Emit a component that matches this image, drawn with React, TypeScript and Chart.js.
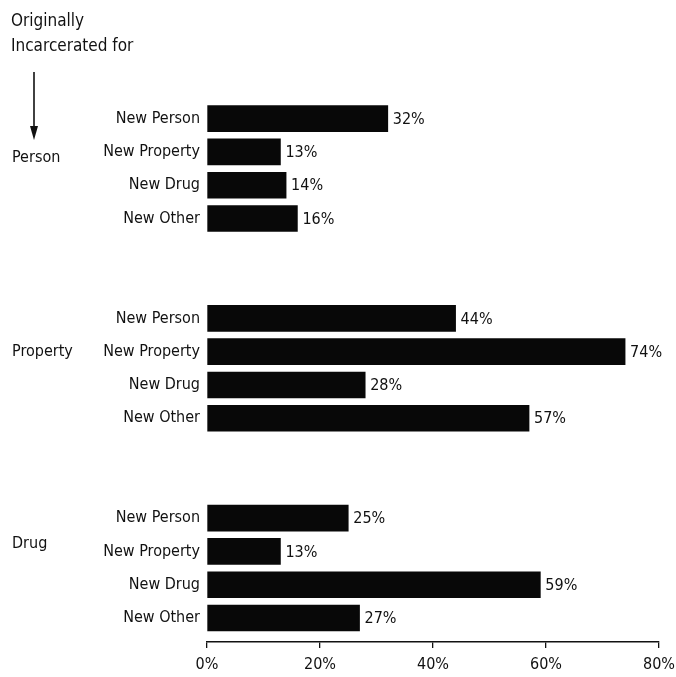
import React, { useEffect, useRef } from 'react';
import { Chart, registerables } from 'chart.js';

Chart.register(...registerables);

const titleLines = ['Originally', 'Incarcerated for'];
const groups = ['Person', 'Property', 'Drug'];
const categories = ['New Person', 'New Property', 'New Drug', 'New Other'];
const personValues = [32, 13, 14, 16];
const propertyValues = [44, 74, 28, 57];
const drugValues = [25, 13, 59, 27];
const xTicks = [0, 20, 40, 60, 80];

const groupValues = [personValues, propertyValues, drugValues];
const ROWS_PER_GROUP = 6;
// vertical nudge (px) of each group label relative to its group's second row
const GROUP_LABEL_NUDGE = [6, 0, -8];

const FONT = "'Liberation Sans Narrow', 'Arial Narrow', 'DejaVu Sans Condensed', 'Liberation Sans', sans-serif";
const INK = '#111111';

const rowLabel: Record<number, string> = {};
const points: { x: number; y: number }[] = [];
groupValues.forEach((vals, g) => {
  vals.forEach((v, i) => {
    const row = g * ROWS_PER_GROUP + i;
    rowLabel[row] = categories[i];
    points.push({ x: v, y: row });
  });
});

const overlayPlugin = {
  id: 'overlay',
  afterDraw(chart: any) {
    const ctx = chart.ctx;
    const yScale = chart.scales.y;
    ctx.save();
    ctx.fillStyle = INK;
    ctx.strokeStyle = INK;

    // title
    ctx.font = `17px ${FONT}`;
    ctx.textAlign = 'left';
    ctx.textBaseline = 'middle';
    titleLines.forEach((t, i) => ctx.fillText(t, 11, 22 + i * 25));

    // arrow
    ctx.lineWidth = 1.6;
    ctx.beginPath();
    ctx.moveTo(34, 72);
    ctx.lineTo(34, 130);
    ctx.stroke();
    ctx.beginPath();
    ctx.moveTo(30, 126);
    ctx.lineTo(38, 126);
    ctx.lineTo(34, 140);
    ctx.closePath();
    ctx.fill();

    // group labels
    ctx.font = `16px ${FONT}`;
    groups.forEach((g, gi) => {
      const y = yScale.getPixelForValue(gi * ROWS_PER_GROUP + 1);
      ctx.fillText(g, 12, y + GROUP_LABEL_NUDGE[gi]);
    });

    // value labels
    const meta = chart.getDatasetMeta(0);
    meta.data.forEach((el: any, i: number) => {
      ctx.fillText(points[i].x + '%', el.x + 5, el.y + 1);
    });
    ctx.restore();
  },
};

export default function App() {
  const ref = useRef<HTMLCanvasElement>(null);
  useEffect(() => {
    if (!ref.current) return;
    const chart = new Chart(ref.current, {
      type: 'bar',
      data: {
        datasets: [
          {
            data: points as any,
            backgroundColor: '#080808',
            borderWidth: 0,
            barThickness: 26,
          },
        ],
      },
      options: {
        indexAxis: 'y',
        animation: false,
        responsive: false,
        layout: { padding: { left: 0, right: 17, top: 102, bottom: 0 } },
        plugins: { legend: { display: false }, tooltip: { enabled: false } },
        scales: {
          x: {
            type: 'linear',
            min: 0,
            max: 80,
            afterFit: (s: any) => {
              s.height = 35;
              s.paddingLeft = 0;
              s.paddingRight = 0;
            },
            afterBuildTicks: (s: any) => {
              s.ticks = xTicks.map((v) => ({ value: v }));
            },
            grid: {
              display: true,
              drawOnChartArea: false,
              drawTicks: true,
              tickLength: 6,
              color: INK,
              lineWidth: 1.3,
            },
            border: { display: true, color: INK, width: 1.6 },
            ticks: {
              padding: 7,
              color: INK,
              font: { family: FONT, size: 16 },
              callback: (v: any) => v + '%',
            },
          },
          y: {
            type: 'linear',
            reverse: true,
            offset: false,
            bounds: 'data',
            min: -0.5,
            max: 15.72,
            afterFit: (s: any) => {
              s.width = 207;
              s.paddingTop = 0;
              s.paddingBottom = 0;
            },
            afterBuildTicks: (s: any) => {
              s.ticks = Object.keys(rowLabel).map((k) => ({ value: Number(k) }));
            },
            grid: { display: false, drawTicks: false, offset: false },
            border: { display: false },
            ticks: {
              autoSkip: false,
              padding: 7,
              color: INK,
              font: { family: FONT, size: 16 },
              callback: (v: any) => rowLabel[v] ?? '',
            },
          },
        },
      },
      plugins: [overlayPlugin],
    });
    return () => chart.destroy();
  }, []);

  return (
    <div style={{ position: 'absolute', left: 0, top: 0, width: 676, height: 677, background: '#fff' }}>
      <canvas ref={ref} width={676} height={677} style={{ display: 'block' }} />
    </div>
  );
}
